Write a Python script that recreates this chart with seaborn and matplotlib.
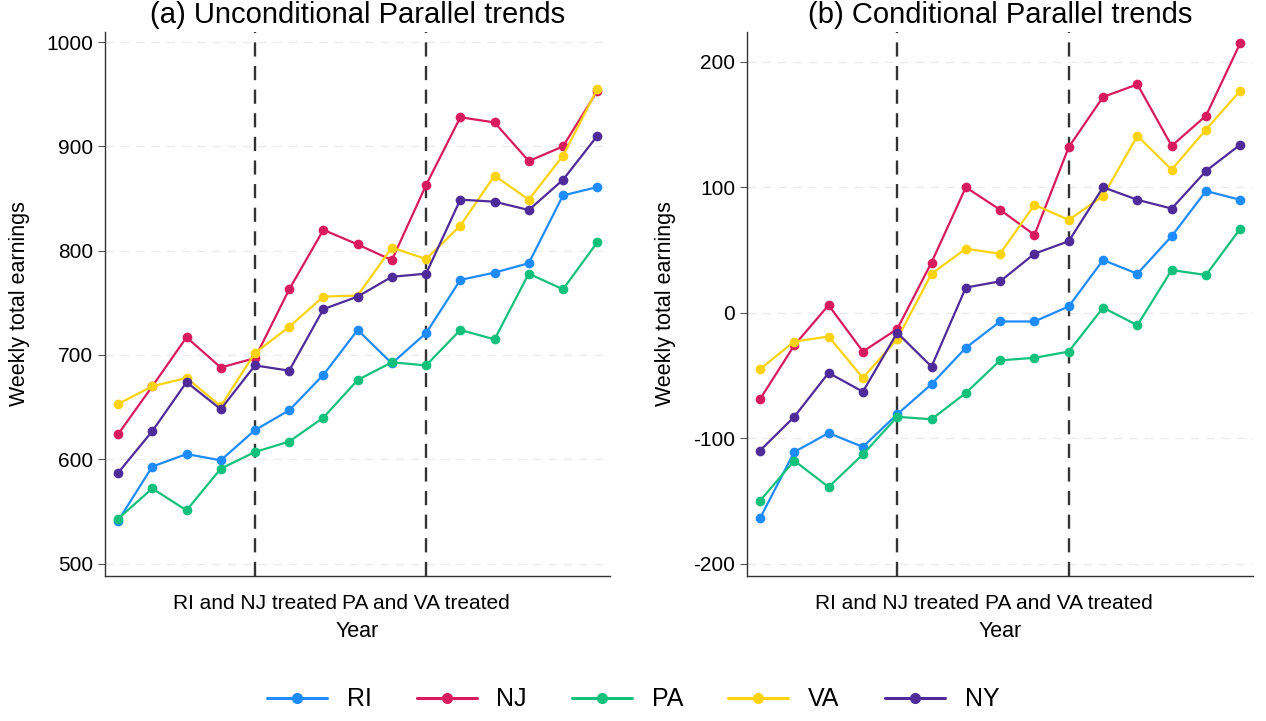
import numpy as np
import pandas as pd
import seaborn as sns
import matplotlib.pyplot as plt
from matplotlib.lines import Line2D

# states and period index (15 periods)
states = ['RI', 'NJ', 'PA', 'VA', 'NY']
periods = list(range(15))
treat_pos = [4, 9]
treat_labels = ['RI and NJ treated', 'PA and VA treated']

# (a) unconditional weekly earnings
ri_a = [541, 593, 605, 599, 628, 647, 681, 724, 692, 721, 772, 779, 788, 853, 861]
nj_a = [624, 670, 717, 688, 697, 763, 820, 806, 791, 863, 928, 923, 886, 900, 953]
pa_a = [543, 572, 551, 591, 607, 617, 640, 676, 693, 690, 724, 715, 778, 763, 808]
va_a = [653, 670, 678, 651, 702, 727, 756, 757, 803, 792, 824, 872, 849, 891, 955]
ny_a = [587, 627, 674, 648, 690, 685, 744, 756, 775, 778, 849, 847, 839, 868, 910]

# (b) conditional (residualised) weekly earnings
ri_b = [-164, -111, -96, -107, -81, -57, -28, -7, -7, 5, 42, 31, 61, 97, 90]
nj_b = [-69, -26, 6, -31, -13, 40, 100, 82, 62, 132, 172, 182, 133, 157, 215]
pa_b = [-150, -118, -139, -113, -83, -85, -64, -38, -36, -31, 4, -10, 34, 30, 67]
va_b = [-45, -23, -19, -52, -21, 31, 51, 47, 86, 74, 93, 141, 114, 146, 177]
ny_b = [-110, -83, -48, -63, -16, -43, 20, 25, 47, 57, 100, 90, 83, 113, 134]

colors = {'RI': '#1e8bff', 'NJ': '#d81b5c', 'PA': '#13c07c', 'VA': '#fdd20e', 'NY': '#4f2b9a'}


def to_long(series):
    rows = []
    for st, vals in zip(states, series):
        for p, v in zip(periods, vals):
            rows.append({'period': p, 'state': st, 'earnings': v})
    return pd.DataFrame(rows)


df_a = to_long([ri_a, nj_a, pa_a, va_a, ny_a])
df_b = to_long([ri_b, nj_b, pa_b, va_b, ny_b])

sns.set_theme(style='white')
plt.rcParams['font.family'] = ['Liberation Sans', 'DejaVu Sans']
plt.rcParams['axes.unicode_minus'] = False
plt.rcParams['text.color'] = 'black'
plt.rcParams['axes.labelcolor'] = 'black'
plt.rcParams['xtick.color'] = 'black'
plt.rcParams['ytick.color'] = 'black'

fig = plt.figure(figsize=(12.66, 7.21), dpi=100)
ax1 = fig.add_axes([0.083, 0.201, 0.399, 0.755])
ax2 = fig.add_axes([0.590, 0.201, 0.400, 0.755])

panels = [
    (ax1, df_a, '(a) Unconditional Parallel trends', (488, 1010), [500, 600, 700, 800, 900, 1000]),
    (ax2, df_b, '(b) Conditional Parallel trends', (-210, 224), [-200, -100, 0, 100, 200]),
]

for ax, df, title, ylim, yticks in panels:
    ax.set_axisbelow(True)
    for t in yticks:
        ax.axhline(t, color='#ebebeb', lw=1.0, ls=(0, (6, 5)), zorder=0)
    for xp in treat_pos:
        ax.axvline(xp, color='#333333', lw=1.7, ls=(0, (6, 4)), zorder=1)
    sns.lineplot(data=df, x='period', y='earnings', hue='state', hue_order=states,
                 palette=colors, marker='o', markersize=7, markeredgewidth=0,
                 linewidth=1.6, legend=False, ax=ax, zorder=3)
    ax.set_xlim(-0.38, 14.38)
    ax.set_ylim(*ylim)
    ax.set_yticks(yticks)
    ax.set_xticks(treat_pos)
    ax.set_xticklabels(treat_labels)
    ax.tick_params(axis='x', length=9, width=1.6, color='#333333', labelsize=15, pad=4)
    ax.tick_params(axis='y', length=5, width=0.8, color='#555555', labelsize=15, left=True)
    ax.set_xlabel('Year', fontsize=15.5, labelpad=6)
    ax.set_ylabel('Weekly total earnings', fontsize=15.5, labelpad=12)
    ax.set_title(title, fontsize=21, pad=6)
    sns.despine(ax=ax)
    for s in ['left', 'bottom']:
        ax.spines[s].set_color('#333333')
        ax.spines[s].set_linewidth(1.0)

handles = [Line2D([0], [0], color=colors[s], lw=2.2, marker='o', markersize=7) for s in states]
fig.legend(handles, states, loc='center', bbox_to_anchor=(0.5, 0.03), ncol=5,
           frameon=False, fontsize=18, handlelength=2.4, columnspacing=1.8)

fig.savefig('out.png', dpi=100)
